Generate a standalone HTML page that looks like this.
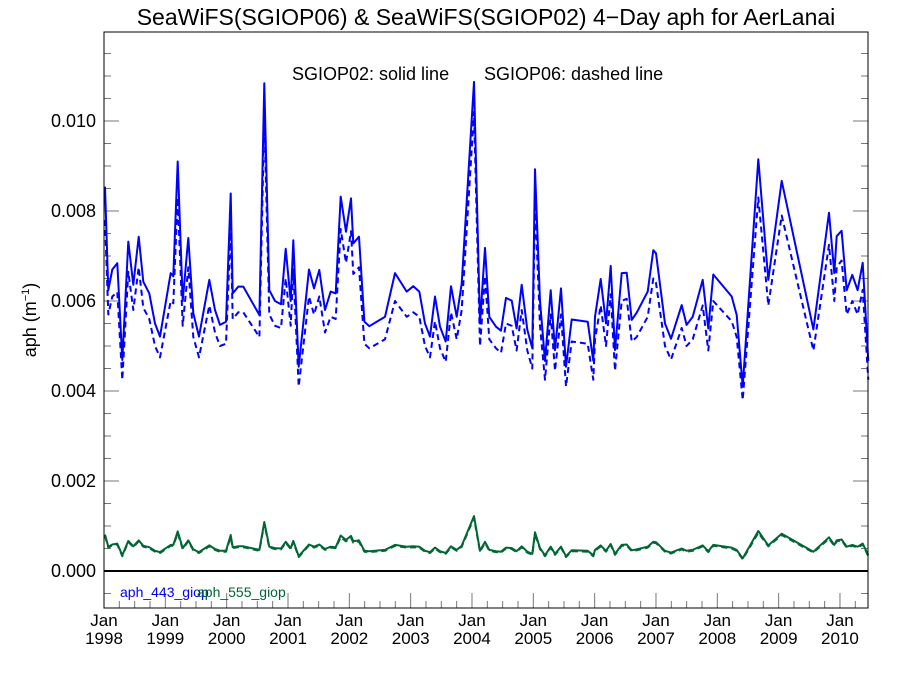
<!DOCTYPE html>
<html><head><meta charset="utf-8">
<style>
body{margin:0;background:#fff}
svg text{font-family:"Liberation Sans",sans-serif}
</style></head>
<body>
<svg width="900" height="675" xmlns="http://www.w3.org/2000/svg">
<text x="486" y="25" font-size="23" text-anchor="middle">SeaWiFS(SGIOP06) &amp; SeaWiFS(SGIOP02) 4−Day aph for AerLanai</text>
<text x="292" y="80" font-size="18">SGIOP02: solid line</text>
<text x="484" y="80" font-size="18">SGIOP06: dashed line</text>
<text transform="translate(36,320) rotate(-90)" font-size="18" text-anchor="middle">aph (m<tspan font-size="11" dy="-7">−1</tspan><tspan dy="7">)</tspan></text>
<g id="axes"></g>
<g id="series"></g>
<rect x="104" y="32" width="764" height="576" fill="none" stroke="#000" stroke-width="1"/>
<text x="120" y="597" font-size="14" fill="#0000ff">aph_443_giop</text>
<text x="197" y="597" font-size="14" fill="#006633">aph_555_giop</text>
</svg>
<script>
const times=[1998.016,1998.07,1998.135,1998.217,1998.298,1998.396,1998.478,1998.566,1998.641,1998.739,1998.832,1998.913,1999.087,1999.13,1999.202,1999.283,1999.375,1999.456,1999.549,1999.717,1999.81,1999.891,1999.989,2000.066,2000.099,2000.19,2000.272,2000.533,2000.614,2000.696,2000.788,2000.886,2000.963,2001.044,2001.087,2001.174,2001.343,2001.424,2001.511,2001.604,2001.696,2001.778,2001.859,2001.946,2002.027,2002.065,2002.158,2002.245,2002.326,2002.582,2002.745,2002.935,2003.043,2003.141,2003.234,2003.315,2003.397,2003.478,2003.571,2003.658,2003.75,2003.832,2004.033,2004.13,2004.212,2004.282,
2004.392,2004.473,2004.555,2004.647,2004.728,2004.81,2004.902,2004.983,2005.027,2005.109,2005.19,2005.283,2005.353,2005.451,2005.533,2005.626,2005.887,2005.978,2006.006,2006.099,2006.185,2006.262,2006.332,2006.441,2006.522,2006.604,2006.685,2006.865,2006.956,2007.0,2007.147,2007.245,2007.419,2007.5,2007.598,2007.761,2007.853,2007.935,2008.235,2008.316,2008.414,2008.669,2008.832,2009.05,2009.566,2009.821,2009.908,2009.946,2010.027,2010.109,2010.201,2010.288,2010.37,2010.462];
// values in units of 1e-3 m^-1
const aph443_sgiop02=[8.54,6.24,6.70,6.84,4.69,7.32,6.36,7.43,6.43,6.17,5.50,5.21,6.62,6.55,9.10,6.00,7.40,5.73,5.21,6.47,5.80,5.47,5.54,8.39,6.17,6.32,6.32,5.69,10.84,6.24,6.00,5.93,7.16,6.00,7.35,4.54,6.70,6.28,6.69,5.80,6.21,6.17,8.32,7.54,8.28,7.28,7.43,5.54,5.44,5.65,6.62,6.21,6.33,6.21,5.50,5.21,6.10,5.43,5.10,6.33,5.65,6.39,10.87,5.50,7.18,5.65,
5.43,5.34,6.07,6.01,5.39,6.36,5.36,4.95,8.93,6.00,4.67,6.24,4.91,6.28,4.54,5.59,5.54,4.67,5.65,6.49,5.50,6.78,4.91,6.62,6.63,5.58,5.74,6.21,7.13,7.06,5.50,5.16,5.91,5.47,5.65,6.47,5.39,6.59,6.10,5.69,4.10,9.15,6.47,8.67,5.37,7.96,6.62,7.44,7.56,6.24,6.58,6.24,6.85,4.67];
const aph443_sgiop06=[7.8,5.7,6.1,6.2,4.25,6.65,5.8,6.75,5.85,5.6,5.0,4.75,6.0,5.95,8.3,5.45,6.75,5.2,4.75,5.9,5.3,5.0,5.05,7.65,5.6,5.75,5.75,5.2,10.1,5.7,5.45,5.4,6.5,5.45,6.7,4.1,6.1,5.7,6.1,5.3,5.65,5.6,7.6,6.85,7.55,6.6,6.75,5.05,4.95,5.15,6.0,5.65,5.75,5.65,5.0,4.75,5.55,4.95,4.65,5.75,5.15,5.8,10.2,5.0,6.55,5.15,
4.95,4.85,5.5,5.45,4.9,5.8,4.9,4.5,8.2,5.45,4.25,5.7,4.45,5.7,4.1,5.1,5.05,4.25,5.15,5.9,5.0,6.15,4.45,6.0,6.05,5.1,5.2,5.65,6.5,6.4,5.0,4.7,5.4,5.0,5.15,5.9,4.9,6.0,5.55,5.2,3.8,8.3,5.9,7.9,4.9,7.25,6.0,6.75,6.9,5.7,6.0,5.7,6.25,4.25];
const aph555_sgiop02=[0.81,0.54,0.59,0.61,0.35,0.67,0.55,0.68,0.56,0.53,0.45,0.42,0.58,0.58,0.88,0.51,0.68,0.48,0.42,0.57,0.49,0.45,0.45,0.80,0.53,0.55,0.55,0.47,1.09,0.54,0.51,0.50,0.65,0.51,0.67,0.33,0.59,0.54,0.59,0.49,0.54,0.53,0.79,0.69,0.78,0.66,0.68,0.45,0.44,0.47,0.58,0.54,0.55,0.54,0.45,0.42,0.52,0.44,0.40,0.55,0.47,0.56,1.22,0.45,0.65,0.47,
0.44,0.43,0.52,0.51,0.44,0.55,0.43,0.38,0.86,0.51,0.35,0.54,0.38,0.54,0.33,0.46,0.45,0.35,0.47,0.57,0.45,0.60,0.38,0.58,0.59,0.46,0.48,0.54,0.65,0.64,0.45,0.41,0.50,0.45,0.47,0.57,0.44,0.58,0.52,0.47,0.28,0.89,0.57,0.83,0.43,0.75,0.58,0.68,0.70,0.54,0.58,0.54,0.61,0.35];
const aph555_sgiop06=[0.78,0.52,0.57,0.59,0.33,0.65,0.53,0.66,0.54,0.51,0.43,0.40,0.56,0.56,0.84,0.49,0.66,0.46,0.40,0.55,0.47,0.43,0.43,0.76,0.51,0.53,0.53,0.45,1.05,0.52,0.49,0.48,0.63,0.49,0.65,0.31,0.57,0.52,0.57,0.47,0.52,0.51,0.75,0.66,0.74,0.63,0.65,0.43,0.42,0.45,0.56,0.52,0.53,0.52,0.43,0.40,0.50,0.42,0.38,0.53,0.45,0.54,1.18,0.43,0.63,0.45,
0.42,0.41,0.50,0.49,0.42,0.53,0.41,0.36,0.82,0.49,0.33,0.52,0.36,0.52,0.31,0.44,0.43,0.33,0.45,0.55,0.43,0.58,0.36,0.56,0.57,0.44,0.46,0.52,0.63,0.62,0.43,0.39,0.48,0.43,0.45,0.55,0.42,0.56,0.50,0.45,0.26,0.85,0.55,0.80,0.41,0.72,0.56,0.66,0.68,0.52,0.56,0.52,0.59,0.33];
const yTickValues=[0,2,4,6,8,10];
const yTickLabels=["0.000","0.002","0.004","0.006","0.008","0.010"];
const xYears=[1998,1999,2000,2001,2002,2003,2004,2005,2006,2007,2008,2009,2010];

const NS="http://www.w3.org/2000/svg";
const L=104,R=868,T=32,B=608;
const x0=1998.0,x1=2010.457,yMin=-0.822,yMax=11.978;
function sx(t){return L+(t-x0)/(x1-x0)*(R-L);}
function sy(v){return B-(v-yMin)/(yMax-yMin)*(B-T);}
function mk(tag,attrs,parent){const e=document.createElementNS(NS,tag);for(const k in attrs)e.setAttribute(k,attrs[k]);parent.appendChild(e);return e;}
const axes=document.getElementById('axes'),series=document.getElementById('series');

for(let v=-0.5;v<=11.9;v+=0.5){
  const major=Math.abs(v/2-Math.round(v/2))<1e-6;
  const len=major?15:7,y=sy(v);
  const a=mk('line',{x1:L,x2:L+len,y1:y,y2:y,stroke:'#777','stroke-width':1},axes);
  
  
  const b=mk('line',{x1:R,x2:R-len,y1:y,y2:y,stroke:'#777','stroke-width':1},axes);
  
  
}
yTickValues.forEach((v,i)=>{
  const t=mk('text',{x:96,y:sy(v)+6,'font-size':18,'text-anchor':'end'},axes);
  t.textContent=yTickLabels[i];
  
  
});
for(let q=0;q<=4*(x1-x0);q++){
  const t=x0+q/4;if(t>x1)break;
  const major=q%4===0,len=major?15:7,x=sx(t);
  const a=mk('line',{x1:x,x2:x,y1:B,y2:B-len,stroke:'#777','stroke-width':1},axes);
  
  
}
xYears.forEach(yr=>{
  const x=sx(yr);
  const t1=mk('text',{x:x,y:626,'font-size':17,'text-anchor':'middle'},axes);
  t1.textContent='Jan';
  
  
  const t2=mk('text',{x:x,y:644,'font-size':17,'text-anchor':'middle'},axes);
  t2.textContent=String(yr);
  
  
});
const zl=mk('line',{x1:L,x2:R,y1:sy(0),y2:sy(0),stroke:'#000','stroke-width':2},axes);



function drawLine(vals,color,dash,name){
  const n=Math.min(times.length,vals.length);let d='';
  for(let i=0;i<n;i++)d+=(i?'L':'M')+sx(times[i]).toFixed(1)+','+sy(vals[i]).toFixed(1);
  const p=mk('path',{d:d,fill:'none',stroke:color,'stroke-width':2,'stroke-linejoin':'round'},series);
  if(dash)p.setAttribute('stroke-dasharray','6,4');
  
  
}
drawLine(aph443_sgiop06,'#0000ff',true,'aph443-sgiop06-line');
drawLine(aph443_sgiop02,'#0000ff',false,'aph443-sgiop02-line');
drawLine(aph555_sgiop06,'#006633',true,'aph555-sgiop06-line');
drawLine(aph555_sgiop02,'#006633',false,'aph555-sgiop02-line');
</script>
</body></html>
